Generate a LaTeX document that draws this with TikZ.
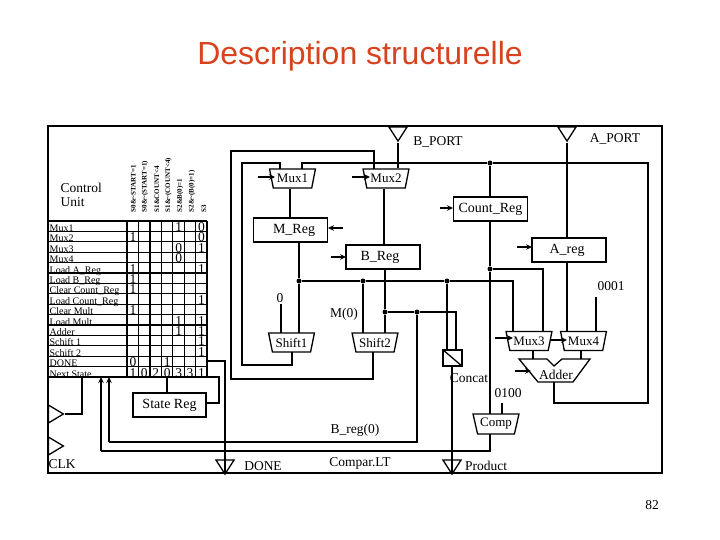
\documentclass[tikz,border=0pt]{standalone}
\usepackage{fontspec}
\setmainfont{Liberation Serif}
\newfontfamily\titlefont{Liberation Sans}
\usetikzlibrary{arrows.meta}
\usetikzlibrary{shapes.geometric}

\definecolor{titlered}{RGB}{216,66,30}

\begin{document}
\begin{tikzpicture}[x=1pt,y=-1pt,line width=1.3pt,
    >={Stealth[black,length=6pt,width=5.5pt]},
    txt/.style={inner sep=0pt,font=\fontsize{13.5}{13.5}\selectfont},
    reg_box/.style={draw,rectangle,inner sep=0pt,minimum width=74pt,minimum height=24pt,
                    font=\fontsize{14}{14}\selectfont},
    mux_box/.style={draw,trapezium,shape border rotate=180,trapezium angle=71,trapezium stretches,inner sep=0pt,
                    minimum width=46pt,minimum height=19pt,
                    font=\fontsize{13}{13}\selectfont},
    pad_down/.style={draw,isosceles triangle,shape border rotate=-90,isosceles triangle stretches,
                     inner sep=0pt,minimum width=18pt,minimum height=14pt},
    dot/.style={circle,fill=black,inner sep=0pt,minimum size=5pt}]
\useasboundingbox (0,0) rectangle (720,540);
\node (title) at (360,56.5) [inner sep=0pt,text=titlered,font=\titlefont\fontsize{32}{32}\selectfont] {Description structurelle};
\node (pagenum) at (652,505) [txt] {82};

% control table
\node (control) at (60,188) [txt,anchor=west] {Control};
\node (unit) at (60,202) [txt,anchor=west] {Unit};
\foreach \i/\rowname in {1/Mux1,2/Mux2,3/Mux3,4/Mux4,5/Load A\_Reg,6/Load B\_Reg,7/Clear Count\_Reg,
                         8/Load Count\_Reg,9/Clear Mult,10/Load Mult,11/Adder,12/Schift 1,13/Schift 2,
                         14/DONE,15/Next State}
    \node (row\i) at (49,{221+10.4*\i}) [anchor=base west,inner sep=0pt,font=\fontsize{10}{10}\selectfont] {\rowname};
\foreach \j/\head in {1/S0\&\textasciitilde START=1,2/S0\&\textasciitilde(START=1),3/S1\&COUNT<4,
                      4/S1\&\textasciitilde(COUNT<4),5/S2\&B(0)=1,6/S2\&\textasciitilde(B(0)=1),7/S3}
    \node (head\j) at ({121.5+11.75*\j},213) [rotate=90,anchor=west,inner sep=0pt,font=\bfseries\fontsize{7}{7}\selectfont] {\head};
\foreach \i/\j/\val in {1/5/1,1/7/0,2/1/1,2/7/0,3/5/0,3/7/1,4/5/0,5/1/1,5/7/1,6/1/1,7/1/1,8/7/1,9/1/1,
                        10/5/1,10/7/1,11/5/1,11/7/1,12/7/1,13/7/1,14/1/0,14/4/1,
                        15/1/1,15/2/0,15/3/2,15/4/0,15/5/3,15/6/3,15/7/1}
    \node (cell\i\j) at ({121.5+11.43*\j},{221+10.4*\i}) [anchor=base,inner sep=0pt,font=\fontsize{13.5}{13.5}\selectfont] {\val};
\foreach \i in {0,...,15}
    \draw (48,{221+10.4*\i}) -- (207,{221+10.4*\i});
\foreach \j in {0,...,7}
    \draw ({127+11.43*\j},221) -- ({127+11.43*\j},377);

% outer frame
\draw (48,126) rectangle (662,473);

% registers
\node (mreg) at (290.5,230) [reg_box] {\raisebox{-3pt}{\hspace*{7pt}M\_Reg}};
\node (breg) at (383,257) [reg_box] {\raisebox{-3pt}{B\_Reg\hspace*{6pt}}};
\node (countreg) at (490.5,209) [reg_box] {\raisebox{-2pt}{Count\_Reg}};
\node (areg) at (569,250) [reg_box] {\raisebox{-2pt}{A\_reg\hspace*{4pt}}};
\node (statereg) at (169.5,405) [reg_box,minimum width=73pt] {\raisebox{-1pt}{State Reg}};

% muxes
\node (mux1) at (292.5,178.5) [mux_box] {Mux1};
\node (mux2) at (386,178.5) [mux_box] {Mux2};
\node (shift1) at (291.5,342.5) [mux_box] {Shift1};
\node (shift2) at (375,342.5) [mux_box] {Shift2};
\node (mux3) at (529,341) [mux_box] {Mux3};
\node (mux4) at (583.5,341) [mux_box] {Mux4};
\node (comp) at (496,424) [mux_box,minimum height=20pt] {Comp};

% adder
\coordinate (addtl) at (519,359);
\coordinate (addnl) at (547,359);
\coordinate (addnotch) at (554,366);
\coordinate (addnr) at (562,359);
\coordinate (addtr) at (590,359);
\coordinate (addbr) at (573,382);
\coordinate (addbl) at (538,382);
\draw (addtl) -- (addnl) -- (addnotch) -- (addnr) -- (addtr) -- (addbr) -- (addbl) -- cycle;
\node (adder) at (556,375) [txt] {Adder};

% concat
\node (concat) at (452.5,358) [draw,rectangle,inner sep=0pt,minimum width=19pt,minimum height=16pt] {};
\draw (concat.north west) -- (concat.south east);
\node (concatlabel) at (469,378) [txt] {Concat};

% ports
\node (aport) at (567,132) [pad_down] {};
\node (bport) at (398,132) [pad_down] {};
\node (doneport) at (225,465) [pad_down] {};
\node (prodport) at (452,465) [pad_down] {};
\node (clk1) at (53.5,414) [draw,isosceles triangle,isosceles triangle stretches,inner sep=0pt,minimum width=18pt,minimum height=15pt] {};
\node (clk2) at (53.5,446) [draw,isosceles triangle,isosceles triangle stretches,inner sep=0pt,minimum width=18pt,minimum height=15pt] {};

% labels
\node (aportlabel) at (615,139) [txt] {A\_PORT};
\node (bportlabel) at (438,142) [txt] {B\_PORT};
\node (donelabel) at (263,466) [txt] {DONE};
\node (productlabel) at (486,466) [txt] {Product};
\node (clklabel) at (62,464) [txt] {CLK};
\node (comparlabel) at (360,463) [txt] {Compar.LT};
\node (breg0label) at (355,430) [txt] {B\_reg(0)};
\node (m0label) at (344,314) [txt] {M(0)};
\node (zerolabel) at (280,298) [txt] {0};
\node (onelabel) at (611,286) [txt] {0001};
\node (fourlabel) at (508,393) [txt] {0100};

% junctions
\node (d1) at (490,163) [dot] {};
\node (d2) at (299,281) [dot] {};
\node (d3) at (363,281) [dot] {};
\node (d4) at (447,281) [dot] {};
\node (d5) at (490,269) [dot] {};
\node (d6) at (385,312) [dot] {};
\node (d7) at (417,312) [dot] {};

% free ends
\coordinate (mux1a) at (280,169);
\coordinate (mux1b) at (302,169);
\coordinate (mux2a) at (374,169);
\coordinate (mux3a) at (513,331);
\coordinate (mux3b) at (543,331);
\coordinate (mux4a) at (567,331);
\coordinate (mux4b) at (596,331);
\coordinate (const1) at (596,297);
\coordinate (shift1a) at (281,333);
\coordinate (const0) at (281,304);
\coordinate (shift1b) at (299,333);
\coordinate (shift1o) at (292,352);
\coordinate (shift2a) at (363,333);
\coordinate (shift2b) at (385,333);
\coordinate (shift2o) at (373,352);
\coordinate (addin1) at (533,359);
\coordinate (addin2) at (581,359);
\coordinate (addout) at (554,382);
\coordinate (mux3o) at (533,351);
\coordinate (mux4o) at (581,351);
\coordinate (concata) at (447,350);
\coordinate (concatb) at (456,350);
\coordinate (prodtop) at (452,366);
\coordinate (prodend) at (452,472);
\coordinate (doneend) at (225,472);
\coordinate (comptop) at (490,414);
\coordinate (compbot) at (490,434);
\coordinate (compin) at (502,414);
\coordinate (const4) at (502,403);
\coordinate (arrow1) at (101,377);
\coordinate (arrow2) at (109,377);
\coordinate (stateout) at (207,377);
\coordinate (statein) at (167,377);
\coordinate (doneout) at (207,361);
\coordinate (clkdrop) at (82,377);

% buses
\draw (mux1a) |- (242,163) |- (shift1o |- 0,365) -- (shift1o);
\draw (mux2a) |- (231,151) |- (shift2o |- 0,379) -- (shift2o);
\draw (mux1b) |- (d1) -- (648,163) |- (addout |- 0,403) -- (addout);
\draw (bport.apex) -- (bport.apex |- mux2.north);
\draw (aport.apex) -- (areg.north -| aport.apex);
\draw (d1) -- (countreg.north -| d1);
\draw (countreg.south -| d5) -- (d5);
\draw (d5) -- (comptop);
\draw (d5) -| (mux3b);
\draw (compbot) |- (arrow1 |- 0,451);
\draw [<-] (arrow1) -- (arrow1 |- 0,451);
\draw (mux1.south -| 290,0) -- (mreg.north -| 290,0);
\draw (mux2.south -| 384,0) -- (breg.north -| 384,0);
\draw (mreg.south -| d2) -- (d2) -- (shift1b);
\draw (d2) -- (d3) -- (d4) -| (mux3a);
\draw (d3) -- (shift2a);
\draw (breg.south -| d6) -- (d6) -- (shift2b);
\draw (d6) -- (d7) -| (concatb);
\draw (d4) -- (concata);
\draw (d7) |- (arrow2 |- 0,442);
\draw [<-] (arrow2) -- (arrow2 |- 0,442);
\draw (areg.south -| mux4a) -- (mux4a);
\draw (const1) -- (mux4b);
\draw (const0) -- (shift1a);
\draw (const4) -- (compin);
\draw (mux3o) -- (addin1);
\draw (mux4o) -- (addin2);
\draw (prodtop) -- (prodend);
\draw (doneout) -| (doneend);
\draw (stateout) -| (219,403) -- (statereg.east |- 0,403);
\draw (statein) -- (statereg.north -| statein);
\draw (clkdrop) |- (clk1.apex);

% control inputs
\foreach \name/\fromx/\toy/\tox in {c1/258/177/275,c2/352/177/370,c3/343/228/328,c4/331/257/346,
                                    c5/440/208/453,c6/517/247/532,c7/495/338/513,c8/550/340/567,c9/515/371/531}{
    \coordinate (\name a) at (\fromx,\toy);
    \coordinate (\name b) at (\tox,\toy);
    \draw [->] (\name a) -- (\name b);
}
\end{tikzpicture}
\end{document}
